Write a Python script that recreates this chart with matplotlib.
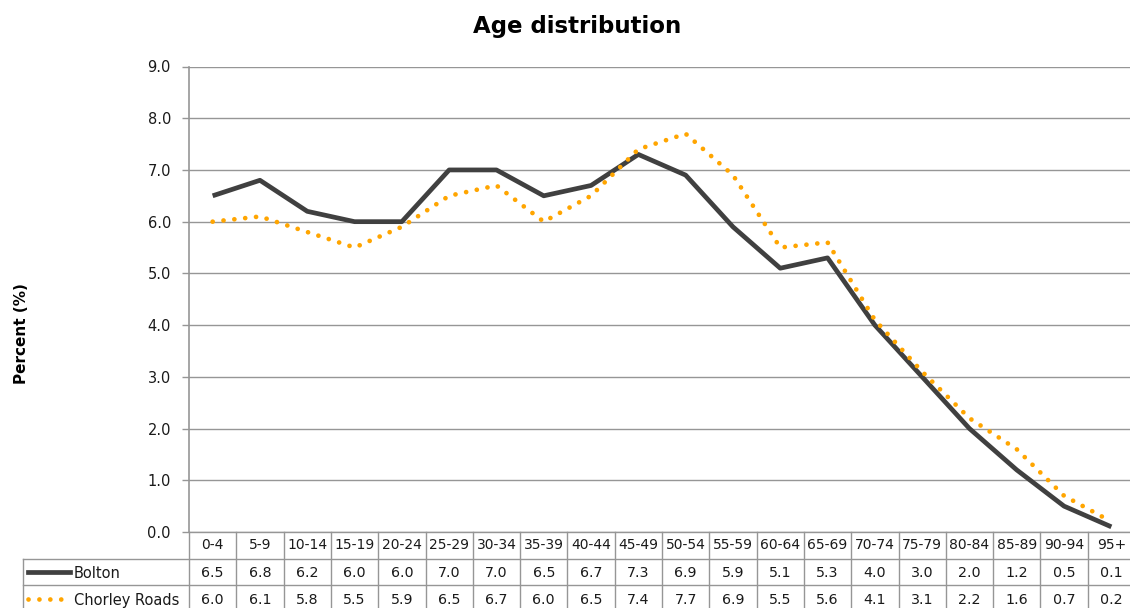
import matplotlib.pyplot as plt
from matplotlib.ticker import FormatStrFormatter

age_groups = ['0-4', '5-9', '10-14', '15-19', '20-24', '25-29', '30-34', '35-39',
              '40-44', '45-49', '50-54', '55-59', '60-64', '65-69', '70-74',
              '75-79', '80-84', '85-89', '90-94', '95+']
bolton = [6.5, 6.8, 6.2, 6.0, 6.0, 7.0, 7.0, 6.5, 6.7, 7.3,
          6.9, 5.9, 5.1, 5.3, 4.0, 3.0, 2.0, 1.2, 0.5, 0.1]
chorley = [6.0, 6.1, 5.8, 5.5, 5.9, 6.5, 6.7, 6.0, 6.5, 7.4,
           7.7, 6.9, 5.5, 5.6, 4.1, 3.1, 2.2, 1.6, 0.7, 0.2]
series_names = ['Bolton', 'Chorley Roads']

W, H = 1130, 608
grid_col = '#969696'
dark = '#404040'
orange = '#FFA500'
font = 'DejaVu Sans'

fig = plt.figure(figsize=(W / 100, H / 100), dpi=100)


def px_box(x0, y0, x1, y1):
    # pixel box (top-left origin) -> figure fraction rect
    return [x0 / W, 1 - y1 / H, (x1 - x0) / W, (y1 - y0) / H]


n = len(age_groups)
xs = [i + 0.5 for i in range(n)]

# main plot
ax = fig.add_axes(px_box(189, 66.5, 1135, 532))
ax.plot(xs, bolton, color=dark, lw=3.4, solid_capstyle='butt', zorder=3)
ax.plot(xs, chorley, color=orange, lw=3.4, linestyle=(0, (0.01, 2.3)),
        dash_capstyle='round', zorder=3)
ax.set_xlim(0, n)
ax.set_ylim(0, 9)
ax.set_yticks(range(10))
ax.yaxis.set_major_formatter(FormatStrFormatter('%.1f'))
ax.grid(axis='y', color=grid_col, lw=1.0)
ax.set_axisbelow(True)
for s in ['top', 'right', 'bottom']:
    ax.spines[s].set_visible(False)
ax.spines['left'].set_color(grid_col)
ax.spines['left'].set_linewidth(1.2)
ax.set_xticks([])
ax.tick_params(axis='y', length=5, width=1.0, color=grid_col, pad=8,
               labelsize=10.5, labelcolor='#1a1a1a')
for lab in ax.get_yticklabels():
    lab.set_fontfamily(font)

# data table below the plot
tx = fig.add_axes(px_box(23, 532, 1135, 612))
lab_w = (189 - 23) / ((1135 - 189) / n)
tx.set_xlim(-lab_w, n)
tx.set_ylim(3, 0)
tx.axis('off')
lw_t = 1.0
# horizontal lines
tx.plot([0, n], [0, 0], color=grid_col, lw=lw_t, clip_on=False)
for r in [1, 2, 3]:
    tx.plot([-lab_w, n], [r, r], color=grid_col, lw=lw_t, clip_on=False)
# vertical lines
for c in range(n + 1):
    tx.plot([c, c], [0, 3], color=grid_col, lw=lw_t, clip_on=False)
tx.plot([-lab_w, -lab_w], [1, 3], color=grid_col, lw=lw_t, clip_on=False)

for i, g in enumerate(age_groups):
    tx.text(i + 0.5, 0.5, g, ha='center', va='center', fontsize=10,
            family=font, color='#1a1a1a')
for r, vals in enumerate([bolton, chorley], start=1):
    for i, v in enumerate(vals):
        tx.text(i + 0.5, r + 0.55, f'{v:.1f}', ha='center', va='center',
                fontsize=10.3, family=font, color='#1a1a1a')

# legend keys in row headers
key_x = [-lab_w + 0.11, -lab_w + 1.0]
tx.plot(key_x, [1.5, 1.5], color=dark, lw=3.4, clip_on=False)
tx.plot(key_x, [2.5, 2.5], color=orange, lw=3.4, linestyle=(0, (0.01, 2.3)),
        dash_capstyle='round', clip_on=False)
for r, name in enumerate(series_names, start=1):
    tx.text(-lab_w + 1.08, r + 0.55, name, ha='left', va='center',
            fontsize=10.5, family=font, color='#1a1a1a')

fig.text(577 / W, 1 - 27 / H, 'Age distribution', ha='center', va='center',
         fontsize=16.5, fontweight='bold', family=font)
fig.text(22 / W, 1 - 334 / H, 'Percent (%)', ha='center', va='center',
         rotation=90, fontsize=11, fontweight='bold', family=font)

fig.savefig('out.png', dpi=100)
plt.close(fig)
